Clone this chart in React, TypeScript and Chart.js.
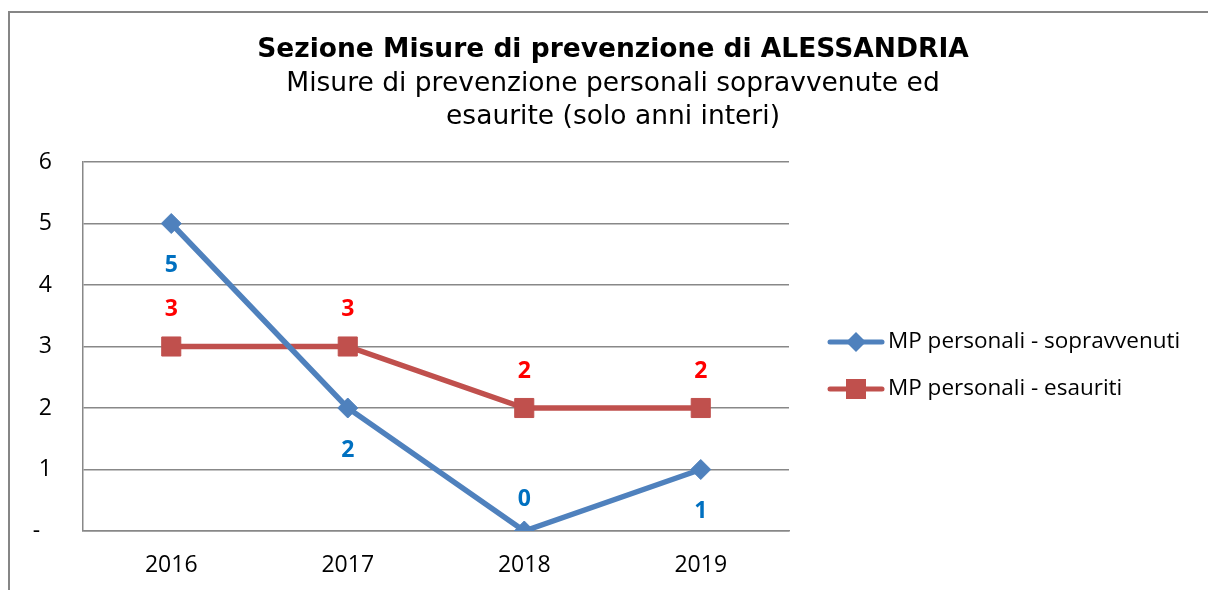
import React, { useEffect, useRef } from 'react';
import { Chart, registerables } from 'chart.js';

Chart.register(...registerables);

const years = ['2016', '2017', '2018', '2019'];
const sopravvenuti = [5, 2, 0, 1];
const esauriti = [3, 3, 2, 2];
const seriesNames = ['MP personali - sopravvenuti', 'MP personali - esauriti'];
const titleText = 'Sezione Misure di prevenzione di ALESSANDRIA';
const subtitleLines = ['Misure di prevenzione personali sopravvenute ed', 'esaurite (solo anni interi)'];
const yMin = 0;
const yMax = 6;
const yStep = 1;

const lineColors = ['#4F81BD', '#C0504D'];
const labelColors = ['#0070C0', '#FF0000'];
const tickFont = '"Open Sans", "Noto Sans", sans-serif';

const decorPlugin = {
  id: 'decor',
  beforeDraw(chart: any) {
    const ctx = chart.ctx;
    ctx.save();
    ctx.fillStyle = '#ffffff';
    ctx.fillRect(0, 0, chart.width, chart.height);
    ctx.strokeStyle = '#868686';
    ctx.lineWidth = 2;
    ctx.beginPath();
    ctx.moveTo(9, chart.height + 2);
    ctx.lineTo(9, 12);
    ctx.lineTo(chart.width + 2, 12);
    ctx.stroke();
    ctx.restore();
  },
  afterDatasetsDraw(chart: any) {
    const ctx = chart.ctx;
    ctx.save();
    ctx.font = `bold 23px ${tickFont}`;
    ctx.textAlign = 'center';
    ctx.textBaseline = 'middle';
    chart.data.datasets.forEach((ds: any, di: number) => {
      const meta = chart.getDatasetMeta(di);
      ctx.fillStyle = labelColors[di];
      meta.data.forEach((pt: any, i: number) => {
        const v = ds.data[i];
        let dy: number;
        if (di === 0) dy = v === yMin ? -32 : 42;
        else dy = -37;
        ctx.fillText(String(v), pt.x, pt.y + dy);
      });
    });
    ctx.restore();
  },
  afterDraw(chart: any) {
    const ctx = chart.ctx;
    ctx.save();
    const cx = 613;
    ctx.fillStyle = '#000000';
    ctx.textAlign = 'center';
    ctx.textBaseline = 'alphabetic';
    ctx.font = 'bold 26.5px "DejaVu Sans", Verdana, sans-serif';
    ctx.fillText(titleText, cx, 57);
    ctx.font = '26.5px "DejaVu Sans", Verdana, sans-serif';
    subtitleLines.forEach((l, i) => ctx.fillText(l, cx, 91 + i * 33));

    const rows = [342, 389];
    seriesNames.forEach((name, i) => {
      const y = rows[i];
      ctx.strokeStyle = lineColors[i];
      ctx.lineWidth = 5;
      ctx.lineCap = 'round';
      ctx.beginPath();
      ctx.moveTo(830, y);
      ctx.lineTo(882, y);
      ctx.stroke();
      ctx.fillStyle = lineColors[i];
      ctx.beginPath();
      if (i === 0) {
        ctx.moveTo(856, y - 10);
        ctx.lineTo(866, y);
        ctx.lineTo(856, y + 10);
        ctx.lineTo(846, y);
        ctx.closePath();
      } else {
        ctx.rect(846, y - 10, 20, 20);
      }
      ctx.fill();
      ctx.fillStyle = '#000000';
      ctx.textAlign = 'left';
      ctx.textBaseline = 'middle';
      ctx.font = `22.5px ${tickFont}`;
      ctx.fillText(name, 888, y);
    });
    ctx.restore();
  },
};

export default function App() {
  const ref = useRef<HTMLCanvasElement | null>(null);
  useEffect(() => {
    if (!ref.current) return;
    const chart = new Chart(ref.current, {
      type: 'line',
      data: {
        labels: years,
        datasets: [
          {
            label: seriesNames[0],
            data: sopravvenuti,
            borderColor: lineColors[0],
            backgroundColor: lineColors[0],
            borderWidth: 5.5,
            pointStyle: 'rectRot',
            pointRadius: 10,
            pointHoverRadius: 10,
            pointBorderWidth: 1,
            pointBackgroundColor: lineColors[0],
            pointBorderColor: lineColors[0],
            tension: 0,
          },
          {
            label: seriesNames[1],
            data: esauriti,
            borderColor: lineColors[1],
            backgroundColor: lineColors[1],
            borderWidth: 5.5,
            pointStyle: 'rect',
            pointRadius: 13.5,
            pointHoverRadius: 13.5,
            pointBorderWidth: 1,
            pointBackgroundColor: lineColors[1],
            pointBorderColor: lineColors[1],
            tension: 0,
          },
        ],
      },
      options: {
        responsive: false,
        animation: false,
        devicePixelRatio: 1,
        events: [],
        layout: { padding: { top: 162, right: 419, bottom: 0, left: 0 } },
        plugins: {
          legend: { display: false },
          title: { display: false },
          tooltip: { enabled: false },
        },
        scales: {
          x: {
            type: 'category',
            offset: true,
            grid: { display: false, drawTicks: false },
            border: { display: true, color: '#888888', width: 1.5 },
            ticks: {
              color: '#000000',
              font: { family: tickFont, size: 23 },
              padding: 21,
              maxRotation: 0,
            },
            afterFit(scale: any) {
              scale.height = 59;
            },
          },
          y: {
            min: yMin,
            max: yMax,
            grid: { color: '#888888', lineWidth: 1.5, drawTicks: false },
            border: { display: true, color: '#888888', width: 1.5 },
            ticks: {
              stepSize: yStep,
              color: '#000000',
              font: { family: tickFont, size: 23 },
              padding: 31,
              callback: (v: any) => (Number(v) === 0 ? '-  ' : String(v)),
            },
            afterFit(scale: any) {
              scale.width = 83;
            },
          },
        },
      },
      plugins: [decorPlugin],
    });
    return () => chart.destroy();
  }, []);
  return (
    <div style={{ position: 'absolute', left: 0, top: 0, width: 1208, height: 590 }}>
      <canvas ref={ref} width={1208} height={590} style={{ width: 1208, height: 590, display: 'block' }} />
    </div>
  );
}
